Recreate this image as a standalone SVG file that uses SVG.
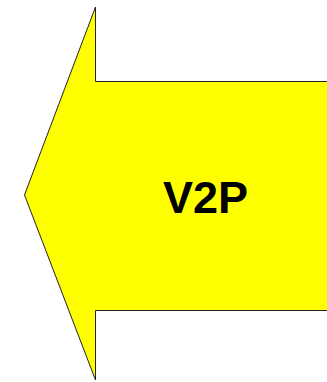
<svg xmlns="http://www.w3.org/2000/svg" width="327" height="382" viewBox="0 0 327 382">
  <style>
    .arrow { fill: #ffff00; stroke: #222222; stroke-width: 1; stroke-linejoin: miter; }
    .label { font-family: "Liberation Sans", Arial, sans-serif; font-weight: bold; font-size: 45px; fill: #000000; }
  </style>
  <g id="v2p">
    <path class="arrow" d="M 340 81.5 L 95.5 81.5 L 95.5 7 L 24.5 195 L 95.5 380 L 95.5 310.5 L 340 310.5 Z"/>
    <text class="label" x="205.5" y="212.5" text-anchor="middle">V2P</text>
  </g>
</svg>
